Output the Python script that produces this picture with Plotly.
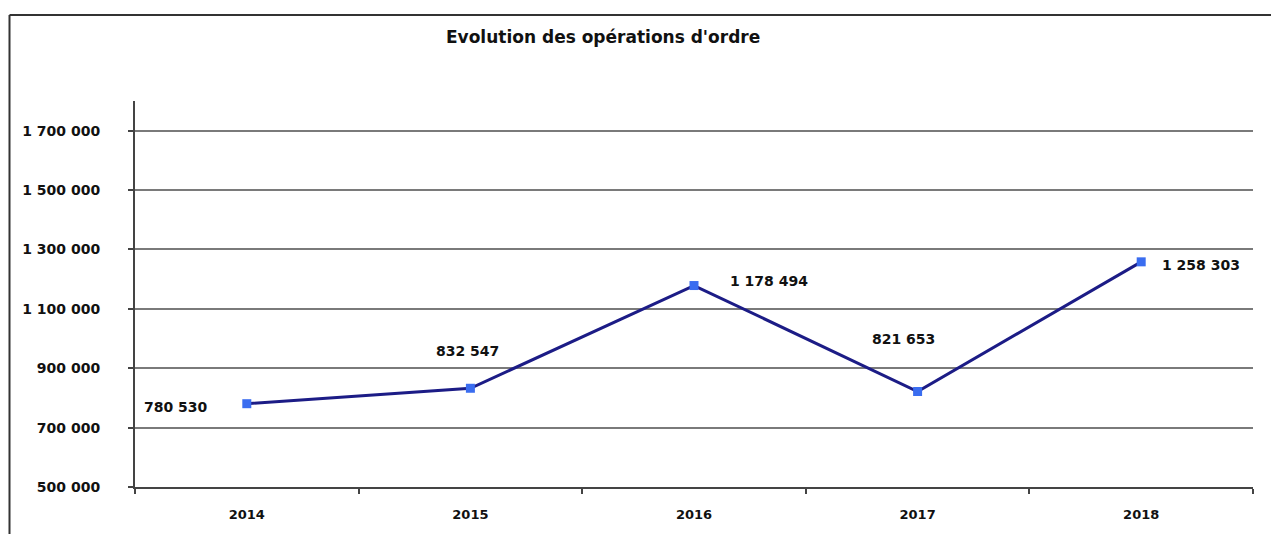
import plotly.graph_objects as go

# ---- data ----
years = ["2014", "2015", "2016", "2017", "2018"]
operations = [780530, 832547, 1178494, 821653, 1258303]
y_ticks = [500000, 700000, 900000, 1100000, 1300000, 1500000, 1700000]
title_text = "Evolution des opérations d'ordre"

# label offsets (pixels) relative to each point
label_dx = [-71, -3, 75, -14, 60]
label_dy = [-3, 37, 5, 52, -3]

FONT = "DejaVu Sans"

def fmt(v):
    return f"{v:,}".replace(",", " ")

fig = go.Figure()
fig.add_trace(go.Scatter(
    x=years, y=operations, mode="lines+markers",
    line=dict(color="#1c1c86", width=3),
    marker=dict(symbol="square", size=9, color="#3a6df0"),
    hoverinfo="x+y", showlegend=False,
))

annotations = []
for i, (v, dx, dy) in enumerate(zip(operations, label_dx, label_dy)):
    annotations.append(dict(
        x=i, y=v, xref="x", yref="y", text="<b>" + fmt(v) + "</b>", showarrow=False,
        xshift=dx, yshift=dy, xanchor="center", yanchor="middle",
        font=dict(family=FONT, size=14, color="#111111"),
    ))

annotations.append(dict(
    x=(603 - 135) / 1118, y=(487 - 37) / 386, xref="paper", yref="paper",
    text="<b>" + title_text + "</b>", showarrow=False,
    xanchor="center", yanchor="middle",
    font=dict(family=FONT, size=17, color="#111111"),
))

shapes = [
    dict(type="line", xref="paper", yref="paper",
         x0=(9.5 - 135) / 1118, x1=(9.5 - 135) / 1118,
         y0=-0.3, y1=(487 - 15) / 386,
         line=dict(color="#333333", width=2)),
    dict(type="line", xref="paper", yref="paper",
         x0=(9.5 - 135) / 1118, x1=1.2,
         y0=(487 - 15) / 386, y1=(487 - 15) / 386,
         line=dict(color="#333333", width=2)),
]

fig.update_layout(
    width=1271, height=534,
    margin=dict(l=135, r=18, t=101, b=47, pad=0),
    paper_bgcolor="white", plot_bgcolor="white",
    separators=". ",
    annotations=annotations, shapes=shapes,
    font=dict(family=FONT, size=14, color="#111111"),
    xaxis=dict(
        type="category", range=[-0.5, 4.5],
        tickson="boundaries", ticks="outside", ticklen=5, tickwidth=1.5,
        tickcolor="#444444", showline=True, linecolor="#444444", linewidth=2,
        showgrid=False, zeroline=False, ticklabelstandoff=14,
        tickvals=years, ticktext=["<b>" + y + "</b>" for y in years],
        tickfont=dict(family=FONT, size=13, color="#111111"),
    ),
    yaxis=dict(
        range=[500000, 1800000], tickvals=y_ticks,
        ticktext=["<b>" + fmt(t) + "</b>" for t in y_ticks],
        ticks="outside", ticklen=5, tickwidth=1.5, tickcolor="#444444",
        showline=True, linecolor="#444444", linewidth=2,
        showgrid=True, gridcolor="#7a7a7a", gridwidth=2,
        zeroline=False, ticklabelstandoff=25,
        tickfont=dict(family=FONT, size=14, color="#111111"),
    ),
)

fig.write_html("out.html",
               config={"displayModeBar": False},
               post_script="document.body.style.margin='0';document.body.style.overflow='hidden';")
